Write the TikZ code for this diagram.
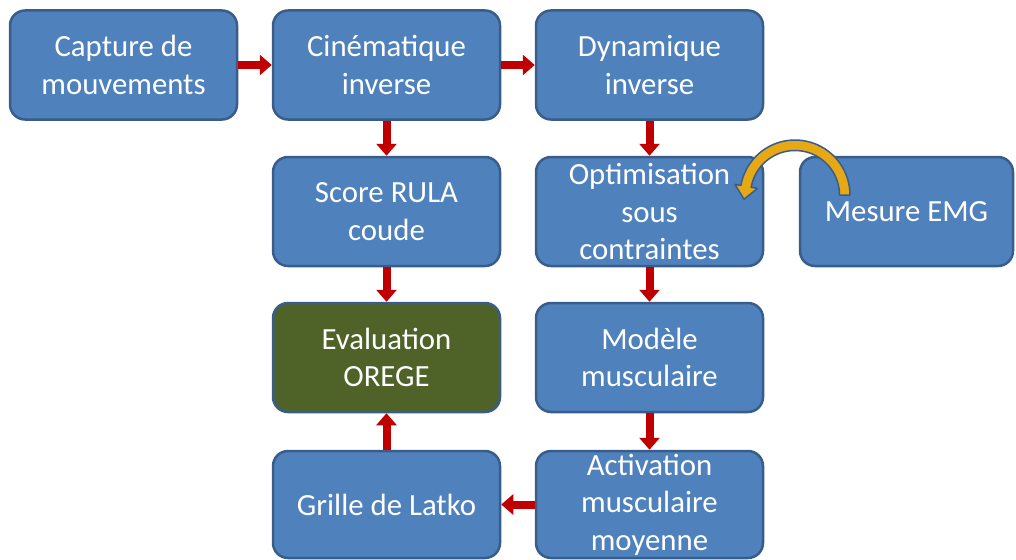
\documentclass[tikz,border=0pt]{standalone}
\usepackage{fontspec}
\setmainfont{Carlito}
\usetikzlibrary{arrows.meta}
\definecolor{boxfill}{HTML}{4F81BD}
\definecolor{boxline}{HTML}{385D8A}
\definecolor{evalfill}{HTML}{4F6228}
\definecolor{arrowred}{HTML}{C00000}
\definecolor{goldarrow}{RGB}{230,168,20}
\begin{document}
\begin{tikzpicture}[x=1pt,y=-1pt,
 box/.style={rectangle, rounded corners=15pt, draw=boxline, line width=2.5pt, fill=boxfill, text=white,
   minimum width=227pt, minimum height=109pt, align=center, inner sep=0pt,
   font=\fontsize{30.8}{37.5}\selectfont},
 flow/.style={draw=arrowred, line width=8pt, -{Triangle[width=20pt,length=12pt]}}]
\useasboundingbox (0,0) rectangle (1016,559);
\node[box] (cap) at (123.5,65) {Capture de\\mouvements};
\node[box] (cin) at (386.5,65) {Cinématique\\inverse};
\node[box] (dyn) at (649.5,65) {Dynamique\\inverse};
\node[box] (rula) at (386.5,211.5) {Score RULA\\coude};
\node[box] (opt) at (649.5,211.5) {Optimisation\\sous\\contraintes};
\node[box, minimum width=213pt] (emg) at (906.5,211.5) {Mesure EMG};
\node[box, fill=evalfill] (eval) at (386.5,357.5) {Evaluation\\OREGE};
\node[box] (mod) at (649.5,357.5) {Modèle\\musculaire};
\node[box, minimum height=107pt] (grille) at (386.5,504.5) {Grille de Latko};
\node[box, minimum height=107pt] (act) at (649.5,504.5) {Activation\\musculaire\\moyenne};
\draw[flow] (cap.east) -- (cin.west);
\draw[flow] (cin.east) -- (dyn.west);
\draw[flow] (cin.south) -- (rula.north);
\draw[flow] (dyn.south) -- (opt.north);
\draw[flow] (rula.south) -- (eval.north);
\draw[flow] (opt.south) -- (mod.north);
\draw[flow] (mod.south) -- (act.north);
\draw[flow] (act.west) -- (grille.east);
\draw[flow] (grille.north) -- (eval.south);
% curved arrow from Mesure EMG to Optimisation
\filldraw[fill=goldarrow, draw=boxline, line width=1.5pt, line join=round]
  plot[domain=0:170, samples=40, variable=\t] ({795+55*cos(\t)}, {195-55*sin(\t)})
  -- ({795+61*cos(170)}, {195-61*sin(170)})
  -- ({795+49.5*cos(170)-13*0.174}, {195-49.5*sin(170)+13*0.985})
  -- ({795+38*cos(170)}, {195-38*sin(170)})
  -- plot[domain=170:0, samples=40, variable=\t] ({795+44.5*cos(\t)}, {195-44.5*sin(\t)})
  -- cycle;
\end{tikzpicture}
\end{document}
